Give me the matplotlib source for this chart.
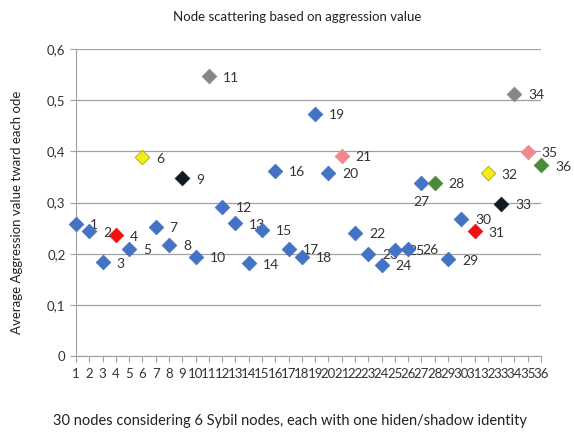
import numpy as np
import matplotlib
matplotlib.use('Agg')
import matplotlib.pyplot as plt

plt.rcParams['font.family'] = ['Lato', 'DejaVu Sans']

nodes = list(range(1, 37))
values = [0.258, 0.244, 0.183, 0.236, 0.210, 0.388, 0.253, 0.217, 0.347, 0.194,
          0.547, 0.292, 0.259, 0.181, 0.247, 0.362, 0.210, 0.194, 0.473, 0.358,
          0.391, 0.241, 0.200, 0.178, 0.207, 0.210, 0.339, 0.339, 0.189, 0.268,
          0.244, 0.357, 0.298, 0.513, 0.399, 0.373]

# Sybil nodes and their hidden identities
special = {4: '#ee1111', 31: '#ee1111',
           6: '#f2ec1a', 32: '#f2ec1a',
           9: '#111a22', 33: '#111a22',
           11: '#86868c', 34: '#86868c',
           21: '#f08890', 35: '#f08890',
           28: '#4a8a3a', 36: '#4a8a3a'}
blue = '#4472c4'

fig = plt.figure(figsize=(5.74, 4.32), dpi=100)
ax = fig.add_axes([76/574, 1-356/432, (541-76)/574, (356-49)/432])

for n, v in zip(nodes, values):
    c = special.get(n, blue)
    ec = '#b0a800' if c == '#f2ec1a' else c
    ax.scatter(n, v, marker='D', s=55, color=c, edgecolors=ec, linewidths=0.6,
               zorder=3, clip_on=False)
    if n == 27:
        ax.annotate(str(n), (n, v), xytext=(0, -14), textcoords='offset points',
                    ha='center', va='center', fontsize=10, color='#333333')
    else:
        ax.annotate(str(n), (n, v), xytext=(10, -1), textcoords='offset points',
                    ha='left', va='center', fontsize=10, color='#333333')

ax.set_xlim(1, 36)
ax.set_ylim(0, 0.6)
ax.set_xticks(nodes)
ax.set_xticklabels([str(n) for n in nodes], fontsize=9.5, color='#333333')
yt = np.arange(0, 0.61, 0.1)
ax.set_yticks(yt)
ax.set_yticklabels(['0'] + ['0,%d' % i for i in range(1, 7)], fontsize=9.5, color='#333333')
ax.yaxis.grid(True, color='#a0a0a0', linewidth=0.9)
ax.set_axisbelow(True)
for s in ['top', 'right']:
    ax.spines[s].set_visible(False)
ax.spines['left'].set_color('#a0a0a0')
ax.spines['bottom'].set_color('#a0a0a0')
ax.tick_params(axis='both', colors='#a0a0a0', labelcolor='#333333', length=4)
ax.tick_params(axis='x', pad=5)

fig.text(297/574, 1-17/432, 'Node scattering based on aggression value',
         ha='center', va='center', fontsize=9.5, color='#222222')
fig.text(290/574, 1-421/432,
         '30 nodes considering 6 Sybil nodes, each with one hiden/shadow identity',
         ha='center', va='center', fontsize=10.5, color='#222222')
fig.text(17/574, 1-212/432, 'Average Aggression value tward each ode',
         ha='center', va='center', rotation=90, fontsize=9.5, color='#222222')

fig.savefig('out.png', dpi=100)
